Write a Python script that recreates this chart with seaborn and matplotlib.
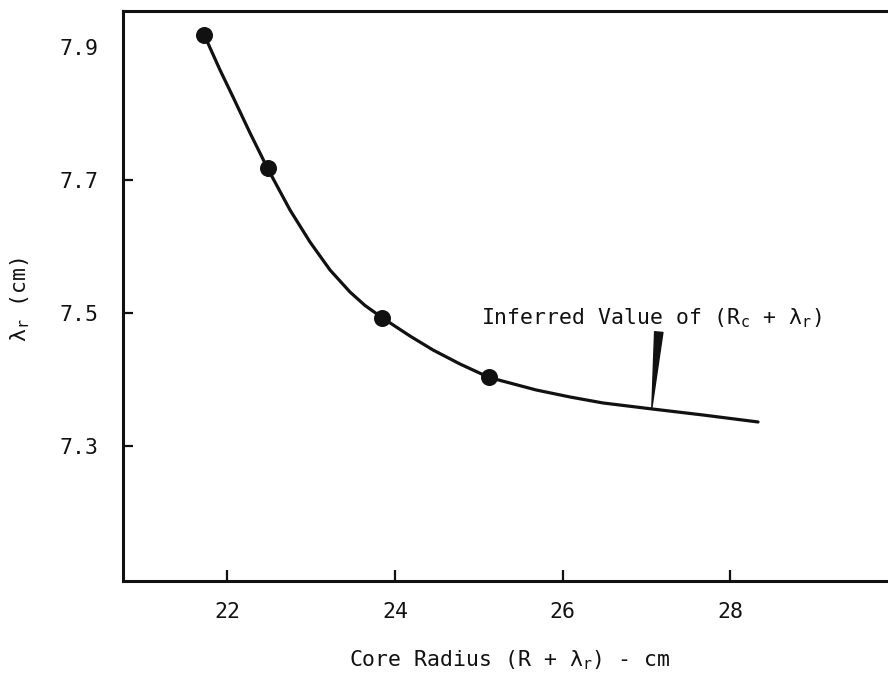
import matplotlib
matplotlib.use("Agg")
import matplotlib.pyplot as plt
import seaborn as sns
import pandas as pd

# measured points (core radius, lambda_r)
point_x = [21.726, 22.48, 23.849, 25.123]
point_y = [7.918, 7.7176, 7.4925, 7.4027]

# hand-drawn curve
curve_x = [21.726, 21.913, 22.068, 22.271, 22.48, 22.748, 22.986, 23.225, 23.463, 23.642,
           23.849, 24.179, 24.453, 24.775, 25.123, 25.683, 26.088, 26.482, 27.066, 27.674, 28.33]
curve_y = [7.918, 7.8656, 7.8250, 7.7708, 7.7176, 7.6548, 7.6067, 7.5645, 7.5314, 7.5111,
           7.4925, 7.4651, 7.4441, 7.4230, 7.4027, 7.3839, 7.3733, 7.3643, 7.3553, 7.3462, 7.3357]

x_ticks = [22, 24, 26, 28]
y_ticks = [7.3, 7.5, 7.7, 7.9]
y_tick_labels = ["7.3", "7.5", "7.7", "7.9"]

annot_text = r"Inferred Value of (R$_\mathregular{c}$ + $\lambda_\mathregular{r}$)"
annot_tip = (27.063, 7.356)
annot_tail = (27.146, 7.471)
annot_text_pos = (25.03, 7.4828)

sns.set_theme(style="white")
plt.rcParams["font.family"] = ["DejaVu Sans Mono", "DejaVu Sans"]
plt.rcParams["mathtext.fontset"] = "custom"
plt.rcParams["mathtext.rm"] = "DejaVu Sans Mono"
plt.rcParams["mathtext.it"] = "DejaVu Sans Mono"
plt.rcParams["mathtext.default"] = "regular"

INK = "#111111"
FS = 15.5

fig = plt.figure(figsize=(8.88, 6.73), dpi=100)
ax = fig.add_axes([123 / 888, (673 - 581) / 673, (888 - 123) / 888, (581 - 11) / 673])

curve_df = pd.DataFrame({"x": curve_x, "y": curve_y})
pts_df = pd.DataFrame({"x": point_x, "y": point_y})

sns.lineplot(data=curve_df, x="x", y="y", ax=ax, color=INK, linewidth=2.3, sort=False)
sns.scatterplot(data=pts_df, x="x", y="y", ax=ax, color=INK, s=150, edgecolor=INK, linewidth=0, zorder=3)

ax.set_xlim(20.756, 29.88)
ax.set_ylim(7.0963, 7.9544)

ax.set_xticks(x_ticks)
ax.set_xticklabels([str(t) for t in x_ticks])
ax.set_yticks(y_ticks)
ax.set_yticklabels(y_tick_labels)

for side in ["left", "bottom", "top"]:
    ax.spines[side].set_color(INK)
    ax.spines[side].set_linewidth(2.2)
ax.spines["right"].set_visible(False)

ax.tick_params(axis="y", direction="in", length=7.5, width=1.6, pad=18, labelsize=FS, colors=INK, left=True)
ax.tick_params(axis="x", direction="in", length=8, width=1.6, pad=15, labelsize=FS, colors=INK, bottom=True)
ax.yaxis.get_major_ticks()[-1].tick1line.set_visible(False)

ax.set_xlabel(r"Core Radius (R + $\lambda_\mathregular{r}$) - cm", fontsize=FS, color=INK)
ax.xaxis.set_label_coords(0.505, -0.1175)
ax.set_ylabel(r"$\lambda_\mathregular{r}$ (cm)", fontsize=FS, color=INK)
ax.yaxis.set_label_coords(-0.119, 0.493)

ax.annotate("", xy=annot_tip, xytext=annot_tail,
            arrowprops=dict(arrowstyle="wedge,tail_width=0.3", color=INK, shrinkA=0, shrinkB=0, mutation_scale=20))
ax.text(annot_text_pos[0], annot_text_pos[1], annot_text, fontsize=FS, color=INK, va="baseline", ha="left")

fig.savefig("out.png", dpi=100, facecolor="white")
